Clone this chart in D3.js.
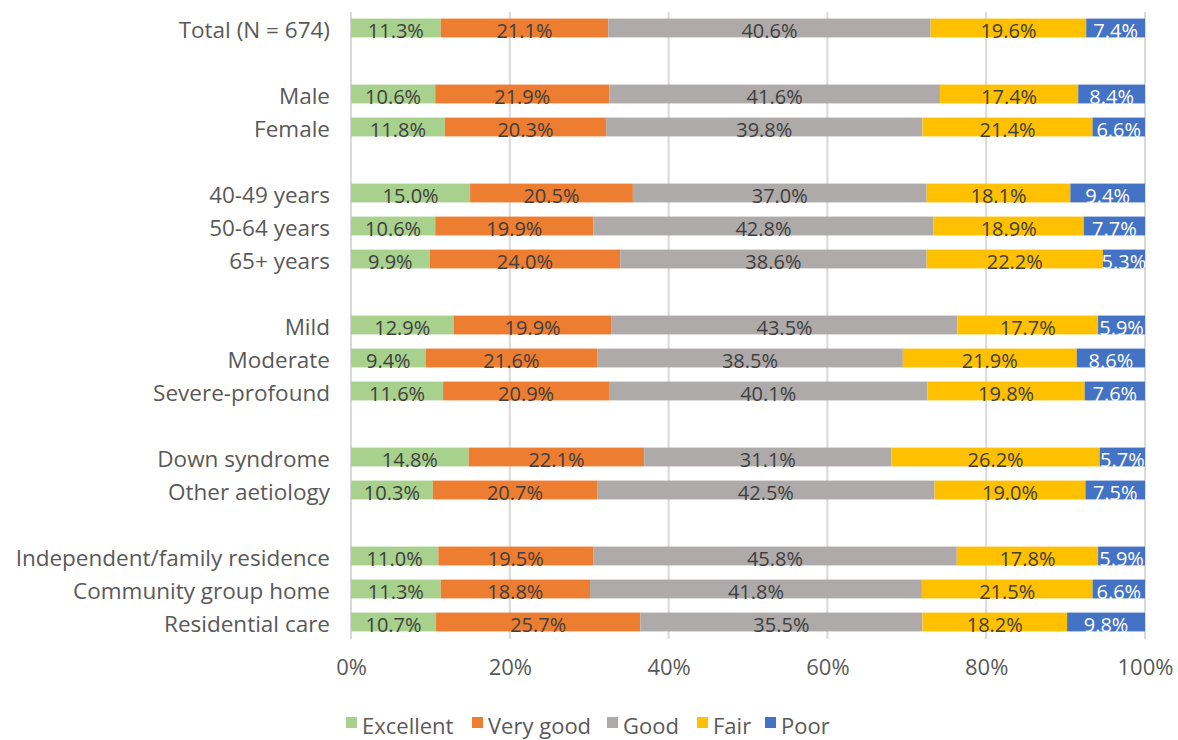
<!DOCTYPE html>
<html><head><meta charset="utf-8">
<script src="https://cdn.jsdelivr.net/npm/d3@7"></script>
<style>html,body{margin:0;padding:0;background:#fff;overflow:hidden}</style>
</head><body>
<svg id="c" width="1178" height="740"></svg>
<script>
const categories = ["Total (N = 674)", "", "Male", "Female", " ", "40-49 years", "50-64 years", "65+ years", "  ",
  "Mild", "Moderate", "Severe-profound", "   ", "Down syndrome", "Other aetiology", "    ",
  "Independent/family residence", "Community group home", "Residential care"];
const seriesNames = ["Excellent", "Very good", "Good", "Fair", "Poor"];
const colors = ["#a9d18e", "#ed7d31", "#aeaaaa", "#ffc000", "#4472c4"];
const excellent = [11.3, null, 10.6, 11.8, null, 15.0, 10.6, 9.9, null, 12.9, 9.4, 11.6, null, 14.8, 10.3, null, 11.0, 11.3, 10.7];
const veryGood  = [21.1, null, 21.9, 20.3, null, 20.5, 19.9, 24.0, null, 19.9, 21.6, 20.9, null, 22.1, 20.7, null, 19.5, 18.8, 25.7];
const good      = [40.6, null, 41.6, 39.8, null, 37.0, 42.8, 38.6, null, 43.5, 38.5, 40.1, null, 31.1, 42.5, null, 45.8, 41.8, 35.5];
const fair      = [19.6, null, 17.4, 21.4, null, 18.1, 18.9, 22.2, null, 17.7, 21.9, 19.8, null, 26.2, 19.0, null, 17.8, 21.5, 18.2];
const poor      = [7.4, null, 8.4, 6.6, null, 9.4, 7.7, 5.3, null, 5.9, 8.6, 7.6, null, 5.7, 7.5, null, 5.9, 6.6, 9.8];
const tickValues = [0, 0.2, 0.4, 0.6, 0.8, 1.0];

const series = [excellent, veryGood, good, fair, poor];
const FONT = "'Open Sans', sans-serif";
const svg = d3.select("#c");
const x = d3.scaleLinear().domain([0, 1]).range([351, 1145]);
const y = d3.scaleBand().domain(categories).range([11.5, 638.5]).paddingInner(0.43).paddingOuter(0.215);

// gridlines
svg.append("g").selectAll("line").data(tickValues).join("line")
  .attr("x1", d => x(d)).attr("x2", d => x(d)).attr("y1", 12).attr("y2", 639)
  .attr("stroke", "#d9d9d9").attr("stroke-width", 2);

// axis labels
const xAxis = d3.axisBottom(x).tickValues(tickValues).tickFormat(d3.format(".0%")).tickSize(0).tickPadding(0);
const ax = svg.append("g").attr("transform", "translate(0,675)").call(xAxis);
ax.select(".domain").remove();
ax.selectAll("text").attr("dy", null).attr("y", 0).attr("font-family", FONT).attr("font-size", 22).attr("fill", "#595959");

// stacked rows
const rows = categories.map((c, i) => {
  const vals = series.map(s => s[i]);
  if (vals[0] == null) return null;
  const tot = d3.sum(vals);
  let acc = 0;
  return vals.map((v, k) => { const s0 = acc / tot; acc += v; return {cat: c, k, v, s0, s1: acc / tot}; });
}).filter(r => r);
const segs = rows.flat();

svg.append("g").selectAll("rect").data(segs).join("rect")
  .attr("x", d => x(d.s0)).attr("width", d => x(d.s1) - x(d.s0))
  .attr("y", d => y(d.cat)).attr("height", y.bandwidth())
  .attr("fill", d => colors[d.k]);

svg.append("g").selectAll("text").data(segs).join("text")
  .attr("x", d => (x(d.s0) + x(d.s1)) / 2).attr("y", d => y(d.cat) + y.bandwidth() / 2 + 9.5)
  .attr("text-anchor", "middle").attr("font-family", FONT).attr("font-size", 20)
  .attr("fill", d => d.k === 4 ? "#ffffff" : "#404040")
  .text(d => d.v.toFixed(1) + "%");

// category labels
svg.append("g").selectAll("text").data(categories.filter(c => c.trim())).join("text")
  .attr("x", 330).attr("y", d => y(d) + y.bandwidth() / 2 + 9.5)
  .attr("text-anchor", "end").attr("font-family", FONT).attr("font-size", 22.5).attr("fill", "#595959")
  .text(d => d);

// legend
const legendX = [346, 472, 607, 697, 765];
const lg = svg.append("g").selectAll("g").data(seriesNames).join("g")
  .attr("transform", (d, i) => `translate(${legendX[i]},0)`);
lg.append("rect").attr("x", 0).attr("y", 717).attr("width", 11).attr("height", 11).attr("fill", (d, i) => colors[i]);
lg.append("text").attr("x", 16).attr("y", 734).attr("font-family", FONT).attr("font-size", 22).attr("fill", "#595959").text(d => d);
</script>
</body></html>
